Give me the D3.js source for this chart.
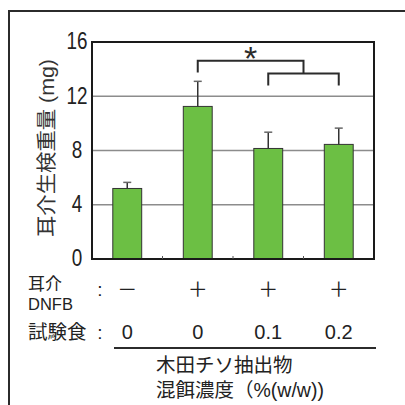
<!DOCTYPE html>
<html>
<head>
<meta charset="utf-8">
<script src="https://cdn.jsdelivr.net/npm/d3@7"></script>
<style>
body { margin: 0; background: #fff; }
</style>
</head>
<body>
<div id="chart"></div>
<script>
// values
const groups = ['0', '0', '0.1', '0.2'];       // 試験食 (%)
const dnfb = ['－', '＋', '＋', '＋'];          // 耳介 DNFB
const means = [5.2, 11.25, 8.15, 8.45];        // 耳介生検重量 (mg)
const errors = [0.45, 1.85, 1.2, 1.2];
const yTicks = [0, 4, 8, 12, 16];

const jp = '"Liberation Sans", Arial, "Noto Sans CJK JP", sans-serif';
const ink = '#2b2b2b';

const svg = d3.select('#chart').append('svg')
    .attr('width', 405)
    .attr('height', 405)
    .attr('font-family', jp);

// outer frame (only top and left edges are in view)
svg.append('path')
    .attr('d', 'M9,420 V11 H420')
    .attr('fill', 'none')
    .attr('stroke', ink)
    .attr('stroke-width', 2);

const plot = { left: 92, right: 374, top: 42, bottom: 259 };

const x = d3.scaleBand()
    .domain(d3.range(means.length))
    .range([plot.left, plot.right])
    .paddingInner(0.59)
    .paddingOuter(0.295);

const y = d3.scaleLinear()
    .domain([0, 16])
    .range([plot.bottom, plot.top]);

const cx = i => x(i) + x.bandwidth() / 2;

// grid
svg.append('g')
    .selectAll('line')
    .data(yTicks.filter(t => t > 0 && t < 16))
    .join('line')
    .attr('x1', plot.left)
    .attr('x2', plot.right)
    .attr('y1', d => y(d))
    .attr('y2', d => y(d))
    .attr('stroke', '#8c8c8c')
    .attr('stroke-width', 1.5);

// y axis labels
const yAxis = svg.append('g')
    .attr('transform', `translate(${plot.left},0)`)
    .call(d3.axisLeft(y).tickValues(yTicks).tickSize(0).tickFormat(d3.format('d')));
yAxis.select('.domain').remove();
yAxis.selectAll('text')
    .attr('x', -15)
    .attr('dy', '0.3em')
    .attr('text-anchor', 'middle')
    .attr('font-family', jp)
    .attr('font-size', 23)
    .attr('fill', '#222')
    .attr('textLength', function() { return this.textContent.length * 10.5; })
    .attr('lengthAdjust', 'spacingAndGlyphs');

// bars
svg.append('g')
    .selectAll('rect')
    .data(means)
    .join('rect')
    .attr('x', (d, i) => x(i))
    .attr('y', d => y(d))
    .attr('width', x.bandwidth())
    .attr('height', d => y(0) - y(d))
    .attr('fill', '#6cbf44')
    .attr('stroke', '#333')
    .attr('stroke-width', 1);

// error bars (upper only)
const err = svg.append('g')
    .attr('stroke', '#333')
    .attr('stroke-width', 1.5);
means.forEach((m, i) => {
    err.append('line')
        .attr('x1', cx(i)).attr('x2', cx(i))
        .attr('y1', y(m)).attr('y2', y(m + errors[i]));
    err.append('line')
        .attr('x1', cx(i) - 4).attr('x2', cx(i) + 4)
        .attr('y1', y(m + errors[i])).attr('y2', y(m + errors[i]))
        .attr('stroke', '#666');
});

// plot frame
svg.append('rect')
    .attr('x', plot.left)
    .attr('y', plot.top)
    .attr('width', plot.right - plot.left)
    .attr('height', plot.bottom - plot.top)
    .attr('fill', 'none')
    .attr('stroke', '#1a1a1a')
    .attr('stroke-width', 2);

// small ticks between groups
svg.append('g')
    .selectAll('line')
    .data(d3.range(1, means.length))
    .join('line')
    .attr('x1', i => x(i) - x.step() * x.paddingInner() / 2)
    .attr('x2', i => x(i) - x.step() * x.paddingInner() / 2)
    .attr('y1', plot.bottom)
    .attr('y2', plot.bottom - 3)
    .attr('stroke', '#555')
    .attr('stroke-width', 1);

// significance brackets
svg.append('path')
    .attr('d', `M${cx(2)},${y(12.8)} V${y(13.68)} H${cx(3)} V${y(12.8)}`)
    .attr('fill', 'none')
    .attr('stroke', ink)
    .attr('stroke-width', 2);
const midInner = (cx(2) + cx(3)) / 2;
svg.append('path')
    .attr('d', `M${cx(1)},${y(13.75)} V${y(14.62)} H${midInner} V${y(13.68)}`)
    .attr('fill', 'none')
    .attr('stroke', ink)
    .attr('stroke-width', 2);
svg.append('text')
    .attr('x', (cx(1) + midInner) / 2)
    .attr('y', 70)
    .attr('text-anchor', 'middle')
    .attr('font-size', 34)
    .attr('font-family', '"Liberation Sans", Arial, sans-serif')
    .attr('fill', ink)
    .text('*');

// y title
svg.append('text')
    .attr('transform', 'translate(54,148) rotate(-90)')
    .attr('text-anchor', 'middle')
    .attr('font-size', 20)
    .attr('fill', '#333')
    .attr('textLength', 178)
    .attr('lengthAdjust', 'spacingAndGlyphs')
    .text('耳介生検重量 (mg)');

// row labels under the chart
const labels = svg.append('g').attr('fill', '#222');
labels.append('text').attr('x', 28).attr('y', 290).attr('font-size', 17).text('耳介');
labels.append('text').attr('x', 28).attr('y', 310).attr('font-size', 16.5).text('DNFB');
labels.append('text').attr('x', 100).attr('y', 296).attr('text-anchor', 'middle').attr('font-size', 19).text(':');
labels.append('text').attr('x', 28).attr('y', 339).attr('font-size', 19.5).text('試験食');
labels.append('text').attr('x', 100).attr('y', 339).attr('text-anchor', 'middle').attr('font-size', 19).text(':');

labels.append('g')
    .selectAll('text')
    .data(dnfb)
    .join('text')
    .attr('x', (d, i) => cx(i))
    .attr('y', 297)
    .attr('text-anchor', 'middle')
    .attr('font-size', 20)
    .attr('font-family', '"Noto Sans CJK JP", sans-serif')
    .text(d => d);

labels.append('g')
    .selectAll('text')
    .data(groups)
    .join('text')
    .attr('x', (d, i) => cx(i))
    .attr('y', 339)
    .attr('text-anchor', 'middle')
    .attr('font-size', 20)
    .text(d => d);

svg.append('line')
    .attr('x1', 114).attr('x2', 376)
    .attr('y1', 348).attr('y2', 348)
    .attr('stroke', ink)
    .attr('stroke-width', 2);

labels.append('text').attr('x', 156).attr('y', 372).attr('font-size', 19.5).text('木田チソ抽出物');
labels.append('text').attr('x', 156).attr('y', 397).attr('font-size', 19.5).text('混餌濃度（%(w/w))');
</script>
</body>
</html>
